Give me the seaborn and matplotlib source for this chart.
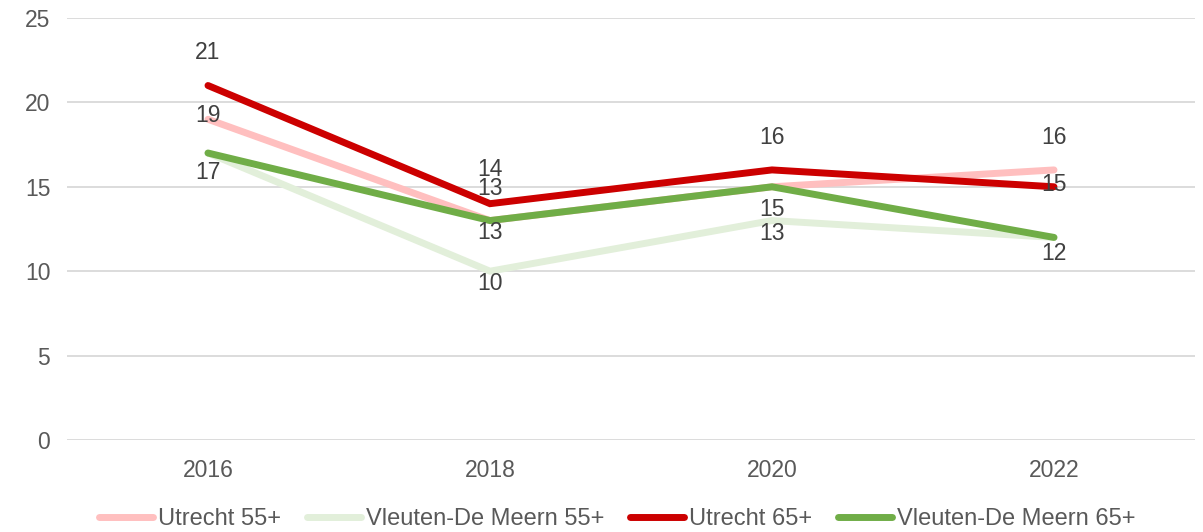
import matplotlib
matplotlib.use("Agg")
import matplotlib.pyplot as plt
import numpy as np
import pandas as pd
import seaborn as sns

# data
YEARS = ["2016", "2018", "2020", "2022"]
SERIES = ["Utrecht 55+", "Vleuten-De Meern 55+", "Utrecht 65+", "Vleuten-De Meern 65+"]
UTRECHT_55 = [19, 13, 15, 16]
VLEUTEN_55 = [17, 10, 13, 12]
UTRECHT_65 = [21, 14, 16, 15]
VLEUTEN_65 = [17, 13, 15, 12]

COLORS = ["#ffbfbf", "#e2efda", "#cc0000", "#70ad47"]
# vertical label offsets (pixels) per series, per year
LABEL_DY = [
    [4, 32, -23, 32],
    [-19, -12, -13, -16],
    [33, 34, 32, 2],
    [-19, -12, -23, -16],
]
TEXT = "#595959"


def main() -> None:
    values = [UTRECHT_55, VLEUTEN_55, UTRECHT_65, VLEUTEN_65]
    df = pd.DataFrame(
        [{"year": y, "series": s, "value": v} for s, vals in zip(SERIES, values) for y, v in zip(YEARS, vals)]
    )

    sns.set_theme(style="white")
    plt.rcParams["font.family"] = ["Liberation Sans", "DejaVu Sans"]

    fig = plt.figure(figsize=(12.03, 5.32), dpi=100)
    ax = fig.add_axes([67 / 1203, 1 - 440 / 532, (1195 - 67) / 1203, (440 - 18) / 532])

    sns.lineplot(
        data=df,
        x="year",
        y="value",
        hue="series",
        hue_order=SERIES,
        palette=COLORS,
        linewidth=5,
        sort=False,
        ax=ax,
        legend=True,
    )
    for line in ax.get_lines():
        line.set_solid_capstyle("round")
        line.set_solid_joinstyle("miter")

    # labels that land on the same spot are drawn once
    drawn = set()
    for s_i, vals in enumerate(values):
        for x_i, v in enumerate(vals):
            key = (x_i, v, LABEL_DY[s_i][x_i])
            if key in drawn:
                continue
            drawn.add(key)
            ax.annotate(
                str(v),
                (x_i, v),
                xytext=(0, LABEL_DY[s_i][x_i]),
                textcoords="offset pixels",
                ha="center",
                va="center",
                fontsize=16.5,
                color="#404040",
            )

    ax.set_xlim(-0.5, 3.5)
    ax.set_ylim(0, 25)
    ax.set_yticks(np.arange(0, 26, 5))
    ax.yaxis.grid(True, color="#d9d9d9", linewidth=1.3)
    ax.xaxis.grid(False)
    for side in ["top", "right", "left", "bottom"]:
        ax.spines[side].set_visible(False)
    ax.tick_params(axis="both", length=0, labelsize=16.5, colors=TEXT)
    ax.tick_params(axis="y", pad=12)
    ax.tick_params(axis="x", pad=14)
    ax.set_xlabel("")
    ax.set_ylabel("")

    handles, labels = ax.get_legend_handles_labels()
    ax.get_legend().remove()
    for h in handles:
        h.set_linewidth(5)
        h.set_solid_capstyle("round")
    fig.legend(
        handles,
        labels,
        loc="lower center",
        bbox_to_anchor=(0.513, -0.036),
        ncol=4,
        frameon=False,
        fontsize=17,
        labelcolor=TEXT,
        handlelength=2.3,
        handletextpad=0.2,
        columnspacing=1.1,
    )

    fig.savefig("out.png", dpi=100)
    plt.close(fig)


if __name__ == "__main__":
    main()
